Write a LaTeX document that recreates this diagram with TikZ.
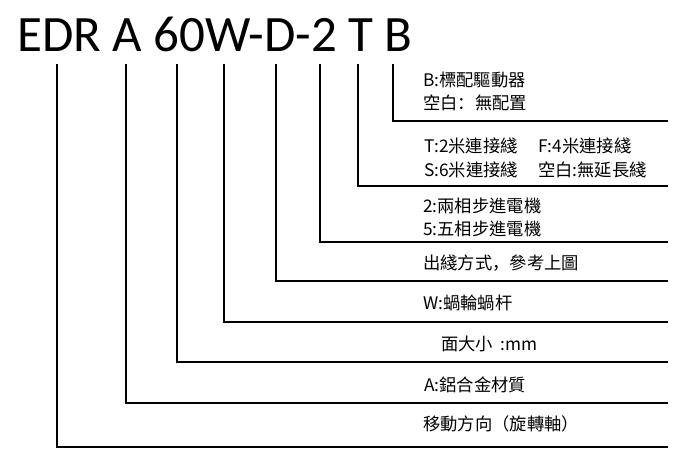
\documentclass[tikz,border=0pt]{standalone}
\usepackage{fontspec}
\setmainfont{Carlito}
\newfontfamily\cjk{Noto Sans CJK TC}
\newfontfamily\cjkp{Noto Sans CJK SC}
\begin{document}
\begin{tikzpicture}[x=1pt,y=-1pt,
  conn/.style={line width=1.8pt,line cap=rect},
  lbl/.style={anchor=west,inner sep=0pt,font=\cjk\fontsize{17.3}{20}\selectfont},
  ttl/.style={anchor=base west,inner sep=0pt,font=\fontsize{51}{58}\selectfont}]
\useasboundingbox (0,0) rectangle (696,462);
\node[ttl] (title) at (17,52) {EDR A 60W-D-2 T B};
% line tops
\foreach \n/\x in {t1/57,t2/126,t3/177,t4/224,t5/276,t6/320,t7/358,t8/393}
  \coordinate (\n) at (\x,65);
% right ends
\foreach \n/\y in {e1/447,e2/403,e3/362,e4/322,e5/281,e6/242,e7/186,e8/121}
  \coordinate (\n) at (667,\y);
\foreach \i in {1,...,8}
  \draw[conn] (t\i) |- (e\i);
% labels
\node[lbl] (b1) at (423,80) {B:標配驅動器};
\node[lbl] (b2) at (423,103) {空白{\cjkp ：}無配置};
\node[lbl] (c1) at (424,146) {T:2米連接綫};
\node[lbl] (c2) at (538,146) {F:4米連接綫};
\node[lbl] (c3) at (424,170) {S:6米連接綫};
\node[lbl] (c4) at (538,170) {空白:無延長綫};
\node[lbl] (d1) at (423,206) {2:兩相步進電機};
\node[lbl] (d2) at (423,229) {5:五相步進電機};
\node[lbl] (f1) at (423,263) {出綫方式{\cjkp ，}參考上圖};
\node[lbl] (g1) at (423,303) {W:蝸輪蝸杆};
\node[lbl] (h1) at (441,344) {面大小\ \ :mm};
\node[lbl] (i1) at (424,385) {A:鋁合金材質};
\node[lbl] (j1) at (423,424) {移動方向（旋轉軸）};
\end{tikzpicture}
\end{document}
